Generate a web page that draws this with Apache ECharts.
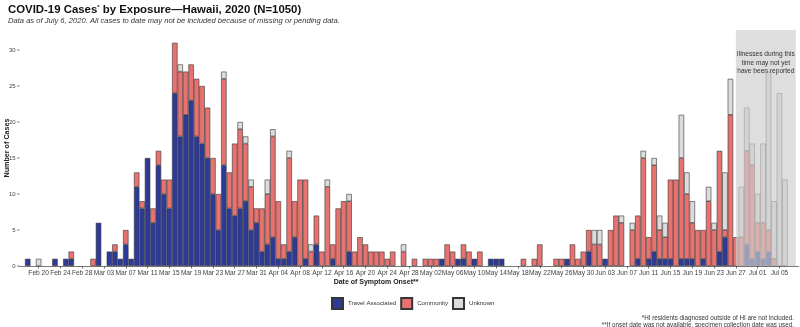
<!DOCTYPE html>
<html>
<head>
<meta charset="utf-8">
<script src="https://cdn.jsdelivr.net/npm/echarts@6/dist/echarts.min.js"></script>
<style>
  html, body { margin: 0; padding: 0; background: #ffffff; }
  #chart { width: 800px; height: 327px; }
</style>
</head>
<body>
<div id="chart"></div>
<script>
// Daily COVID-19 cases in Hawaii by date of symptom onset, Feb 18 – Jul 6, 2020,
// split by exposure type. One entry per day, starting Feb 18.
const firstOnsetDay = [2020, 1, 18];

const travelAssociated = [
  1, 0, 0, 0, 0, 1, 0, 1, 1, 0,
  0, 0, 0, 6, 0, 2, 2, 1, 3, 1,
  11, 8, 15, 6, 14, 10, 8, 24, 18, 21,
  23, 18, 17, 15, 10, 5, 14, 8, 7, 8,
  9, 5, 6, 2, 3, 4, 1, 1, 2, 4,
  0, 1, 0, 3, 0, 0, 1, 0, 0, 2,
  0, 0, 0, 0, 0, 0, 0, 0, 0, 0,
  0, 0, 0, 0, 0, 0, 1, 0, 0, 1,
  1, 0, 1, 0, 0, 1, 1, 1, 0, 0,
  0, 0, 0, 0, 0, 0, 0, 0, 0, 1,
  0, 0, 0, 2, 0, 0, 1, 0, 0, 0,
  0, 0, 1, 0, 1, 2, 1, 1, 1, 0,
  1, 1, 1, 0, 1, 0, 0, 2, 4, 0,
  0, 0, 3, 1, 2, 1, 2, 0, 0, 0
];

const community = [
  0, 0, 0, 0, 0, 0, 0, 0, 1, 0,
  0, 0, 1, 0, 0, 0, 1, 0, 2, 0,
  2, 1, 0, 2, 2, 2, 4, 7, 9, 6,
  5, 8, 8, 7, 5, 5, 12, 5, 10, 11,
  8, 6, 2, 6, 7, 14, 8, 2, 13, 5,
  12, 11, 2, 4, 2, 11, 2, 8, 9, 7,
  2, 4, 3, 2, 2, 2, 1, 2, 0, 2,
  0, 1, 0, 1, 1, 1, 0, 3, 2, 0,
  2, 2, 0, 2, 0, 0, 0, 0, 0, 0,
  0, 1, 0, 1, 3, 0, 0, 1, 1, 0,
  3, 1, 2, 3, 3, 3, 0, 5, 7, 6,
  0, 5, 6, 15, 3, 12, 4, 3, 11, 12,
  14, 9, 5, 5, 4, 9, 5, 14, 1, 21,
  4, 4, 13, 13, 4, 5, 3, 1, 0, 0
];

const unknown = [
  0, 0, 1, 0, 0, 0, 0, 0, 0, 0,
  0, 0, 0, 0, 0, 0, 0, 0, 0, 0,
  0, 0, 0, 0, 0, 0, 0, 0, 1, 0,
  0, 0, 0, 0, 0, 0, 1, 0, 0, 1,
  1, 1, 0, 0, 2, 1, 0, 0, 1, 0,
  0, 0, 1, 0, 0, 1, 0, 0, 0, 1,
  0, 0, 0, 0, 0, 0, 0, 0, 0, 1,
  0, 0, 0, 0, 0, 0, 0, 0, 0, 0,
  0, 0, 0, 0, 0, 0, 0, 0, 0, 0,
  0, 0, 0, 0, 0, 0, 0, 0, 0, 0,
  0, 0, 0, 0, 2, 2, 0, 0, 0, 1,
  0, 1, 0, 1, 0, 1, 2, 2, 0, 0,
  6, 3, 3, 0, 0, 2, 1, 0, 8, 5,
  0, 7, 6, 3, 4, 11, 22, 8, 24, 12
];

const tickLabels = [
  'Feb 20', 'Feb 24', 'Feb 28', 'Mar 03', 'Mar 07', 'Mar 11', 'Mar 15', 'Mar 19',
  'Mar 23', 'Mar 27', 'Mar 31', 'Apr 04', 'Apr 08', 'Apr 12', 'Apr 16', 'Apr 20',
  'Apr 24', 'Apr 28', 'May 02', 'May 06', 'May 10', 'May 14', 'May 18', 'May 22',
  'May 26', 'May 30', 'Jun 03', 'Jun 07', 'Jun 11', 'Jun 15', 'Jun 19', 'Jun 23',
  'Jun 27', 'Jul 01', 'Jul 05'
];

const yTicks = [0, 5, 10, 15, 20, 25, 30];

// Period whose counts are still incomplete
const lateReportingStart = 'Jun 27';
const lateReportingEnd = 'Jul 08';

const MONTHS = ['Jan', 'Feb', 'Mar', 'Apr', 'May', 'Jun', 'Jul', 'Aug', 'Sep', 'Oct', 'Nov', 'Dec'];
const DAY_MS = 86400000;
const startMs = Date.UTC(firstOnsetDay[0], firstOnsetDay[1], firstOnsetDay[2]);
function dayName(offset) {
  const d = new Date(startMs + offset * DAY_MS);
  return MONTHS[d.getUTCMonth()] + ' ' + String(d.getUTCDate()).padStart(2, '0');
}

// empty days on either side give the panel a little breathing room
const PAD_BEFORE = 1;
const PAD_AFTER = 2;
const categories = [];
for (let i = -PAD_BEFORE; i < travelAssociated.length + PAD_AFTER; i++) {
  categories.push(dayName(i));
}
function toSeries(values) {
  const out = [];
  for (let i = 0; i < PAD_BEFORE; i++) out.push(null);
  values.forEach(v => out.push(v > 0 ? v : null));
  for (let i = 0; i < PAD_AFTER; i++) out.push(null);
  return out;
}

const tickSet = new Set(tickLabels);
const FONT = '"Liberation Sans", Arial, Helvetica, sans-serif';
const OUTLINE = '#363636';
const AXIS_GREY = '#3f3f3f';

const barBase = {
  type: 'bar',
  stack: 'cases',
  barCategoryGap: '0%',
  barGap: '0%',
  animation: false,
  emphasis: { disabled: true }
};

const chart = echarts.init(document.getElementById('chart'), null, { renderer: 'canvas' });

chart.setOption({
  animation: false,
  textStyle: { fontFamily: FONT },
  title: [
    {
      left: 8, top: 4, padding: 0,
      text: '{t|COVID-19 Cases}{s|*}{t| by Exposure\u2014Hawaii, 2020 (N=1050)}',
      textStyle: {
        rich: {
          t: { fontFamily: FONT, fontSize: 11.4, fontWeight: 'bold', color: '#111' },
          s: { fontFamily: FONT, fontSize: 6, fontWeight: 'bold', color: '#111', verticalAlign: 'top', padding: [0, 0, 5, 0] }
        }
      }
    },
    {
      left: 8, top: 17, padding: 0,
      text: 'Data as of July 6, 2020. All cases to date may not be included because of missing or pending data.',
      textStyle: { fontFamily: FONT, fontSize: 7.6, fontStyle: 'italic', fontWeight: 'normal', color: '#333' }
    },
    {
      left: 794, bottom: -1, padding: 0,
      textAlign: 'right',
      text: '*HI residents diagnosed outside of HI are not included.\n**If onset date was not available, specimen collection date was used.',
      textStyle: { fontFamily: FONT, fontSize: 6.3, lineHeight: 6.3, fontWeight: 'normal', color: '#333', align: 'right' }
    }
  ],
  legend: {
    left: 331, top: 297, padding: 0,
    itemWidth: 11, itemHeight: 11, itemGap: 4,
    icon: 'rect',
    textStyle: { fontFamily: FONT, fontSize: 6.1, color: '#333' },
    selectedMode: false,
    data: ['Travel Associated', 'Community', 'Unknown']
  },
  grid: { left: 19.55, right: 1.5, top: 30, bottom: 61, containLabel: false, outerBoundsMode: 'none' },
  xAxis: {
    type: 'category',
    data: categories,
    boundaryGap: true,
    name: 'Date of Symptom Onset**',
    nameLocation: 'middle',
    nameGap: 13,
    nameMoveOverlap: false,
    nameTextStyle: { fontFamily: FONT, fontSize: 7, fontWeight: 'bold', color: '#222', padding: [0, 66, 0, 0] },
    axisLine: { show: true, lineStyle: { color: AXIS_GREY, width: 0.7 } },
    axisTick: {
      show: true, length: 2.5, alignWithLabel: true,
      interval: (i, v) => tickSet.has(v),
      lineStyle: { color: AXIS_GREY, width: 0.7 }
    },
    axisLabel: {
      interval: (i, v) => tickSet.has(v),
      fontFamily: FONT, fontSize: 6.6, color: AXIS_GREY, margin: 3.5
    },
    splitLine: { show: false }
  },
  yAxis: {
    type: 'value',
    min: 0,
    max: 32.78,
    interval: 5,
    name: 'Number of Cases',
    nameLocation: 'middle',
    nameGap: 9,
    nameMoveOverlap: false,
    nameRotate: 90,
    nameTextStyle: { fontFamily: FONT, fontSize: 7.2, fontWeight: 'bold', color: '#222' },
    axisLine: { show: false },
    axisTick: { show: false },
    splitLine: { show: false },
    axisLabel: {
      margin: 0,
      formatter: v => (yTicks.indexOf(v) >= 0 ? '{n|' + v + '}{k|}' : ''),
      rich: {
        n: { fontFamily: FONT, fontSize: 6, color: AXIS_GREY, padding: [0, 1.5, 0, 0] },
        k: { width: 2.5, height: 0.7, backgroundColor: AXIS_GREY }
      }
    }
  },
  series: [
    Object.assign({}, barBase, {
      name: 'Travel Associated',
      data: toSeries(travelAssociated),
      itemStyle: { color: '#2D3A98', borderColor: OUTLINE, borderWidth: 0.6 }
    }),
    Object.assign({}, barBase, {
      name: 'Community',
      data: toSeries(community),
      itemStyle: { color: '#E8726F', borderColor: OUTLINE, borderWidth: 0.6 }
    }),
    Object.assign({}, barBase, {
      name: 'Unknown',
      data: toSeries(unknown),
      itemStyle: { color: '#DCDCDC', borderColor: OUTLINE, borderWidth: 0.6 }
    }),
    {
      // carrier for the translucent late-reporting band drawn over the bars
      name: 'late-reporting',
      type: 'line',
      data: categories.map(() => null),
      showSymbol: false,
      silent: true,
      animation: false,
      lineStyle: { opacity: 0 },
      markArea: {
        z: 10,
        silent: true,
        itemStyle: { color: 'rgba(206,206,206,0.68)', borderWidth: 0 },
        label: {
          show: true,
          position: 'insideTop',
          distance: 20.5,
          fontFamily: FONT,
          fontSize: 6.6,
          lineHeight: 8.3,
          color: '#333',
          align: 'center',
          formatter: 'Illnesses during this\ntime may not yet\nhave been reported'
        },
        data: [[{ xAxis: lateReportingStart }, { xAxis: lateReportingEnd }]]
      }
    }
  ]
});
</script>
</body>
</html>
